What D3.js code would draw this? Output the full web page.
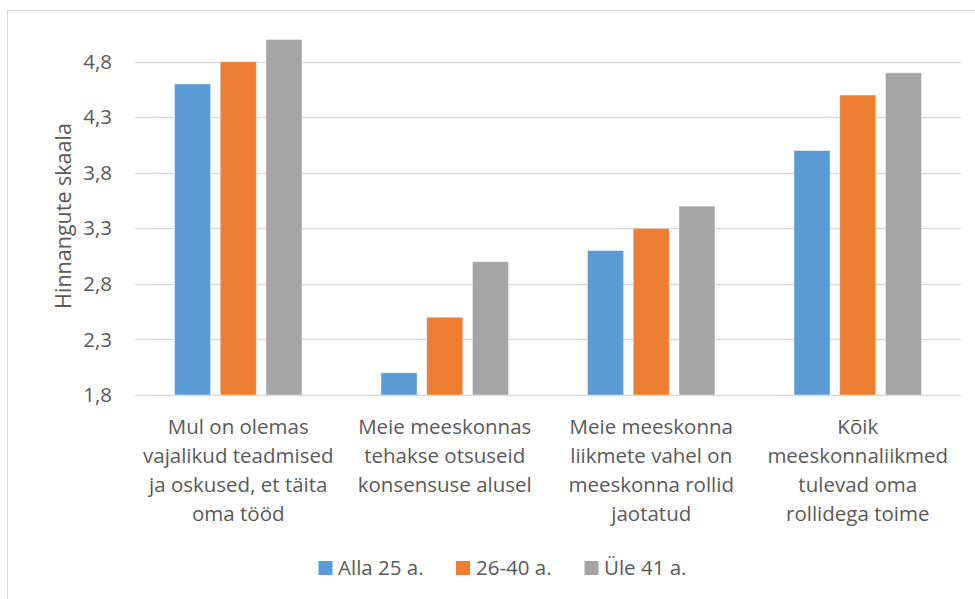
<!DOCTYPE html>
<html>
<head>
<meta charset="utf-8">
<script src="https://cdn.jsdelivr.net/npm/d3@7"></script>
<style>
  html, body { margin: 0; padding: 0; background: #fff; }
  svg { display: block; font-family: "Open Sans", Lato, sans-serif; }
</style>
</head>
<body>
<svg id="chart" width="975" height="599"></svg>
<script>
// Statements (line breaks mark where each label wraps)
const categories = [
  "Mul on olemas\nvajalikud teadmised\nja oskused, et täita\noma tööd",
  "Meie meeskonnas\ntehakse otsuseid\nkonsensuse alusel",
  "Meie meeskonna\nliikmete vahel on\nmeeskonna rollid\njaotatud",
  "Kõik\nmeeskonnaliikmed\ntulevad oma\nrollidega toime"
];
const seriesNames = ["Alla 25 a.", "26-40 a.", "Üle 41 a."];
const seriesColors = ["#5B9BD5", "#ED7D31", "#A5A5A5"];
const valuesAlla25 = [4.6, 2.0, 3.1, 4.0];
const values26to40 = [4.8, 2.5, 3.3, 4.5];
const valuesYle41 = [5.0, 3.0, 3.5, 4.7];
const yTicks = [1.8, 2.3, 2.8, 3.3, 3.8, 4.3, 4.8];
const yTitle = "Hinnangute skaala";

const seriesValues = [valuesAlla25, values26to40, valuesYle41];

const svg = d3.select("#chart");
const textColor = "#595959";
const gridColor = "#D9D9D9";
const fontSize = "20.5px";

// outer chart frame
svg.append("rect")
  .attr("x", 7.5).attr("y", 10.5)
  .attr("width", 1000).attr("height", 1000)
  .attr("fill", "none").attr("stroke", gridColor).attr("stroke-width", 1);

const plot = { left: 135, right: 961, top: 39.5, bottom: 395 };

const y = d3.scaleLinear().domain([1.8, 5.0]).range([plot.bottom, plot.top]);
const x0 = d3.scaleBand().domain(d3.range(categories.length))
  .range([plot.left, plot.right]).paddingInner(0).paddingOuter(0);
const x1 = d3.scaleBand().domain(d3.range(seriesNames.length))
  .range([0, x0.bandwidth()]).paddingInner(0.212).paddingOuter(0.864);

// gridlines
svg.append("g")
  .selectAll("line")
  .data(yTicks)
  .join("line")
  .attr("x1", plot.left).attr("x2", plot.right)
  .attr("y1", d => Math.round(y(d)) + 0.5).attr("y2", d => Math.round(y(d)) + 0.5)
  .attr("stroke", gridColor).attr("stroke-width", 1.3);

// y axis labels
const yAxis = d3.axisLeft(y).tickValues(yTicks).tickSize(0).tickPadding(0)
  .tickFormat(d => d3.format(".1f")(d).replace(".", ","));
const yg = svg.append("g").attr("transform", `translate(${112},0)`).call(yAxis);
yg.select(".domain").remove();
yg.selectAll("text").attr("fill", textColor).style("font-size", fontSize)
  .style("font-family", "'Open Sans', sans-serif");

// y axis title
svg.append("text")
  .attr("transform", `translate(71,${216}) rotate(-90)`)
  .attr("text-anchor", "middle")
  .attr("fill", textColor)
  .style("font-size", "21.5px")
  .text(yTitle);

// bars
const groups = svg.append("g").selectAll("g")
  .data(categories.map((c, i) => ({ i, vals: seriesValues.map(s => s[i]) })))
  .join("g")
  .attr("transform", d => `translate(${x0(d.i)},0)`);

groups.selectAll("rect")
  .data(d => d.vals.map((v, s) => ({ v, s })))
  .join("rect")
  .attr("x", d => x1(d.s))
  .attr("width", x1.bandwidth())
  .attr("y", d => y(d.v))
  .attr("height", d => y(1.8) - y(d.v))
  .attr("fill", d => seriesColors[d.s])
  .attr("stroke", "#fff").attr("stroke-opacity", 0.5).attr("stroke-width", 0.8);

// category labels
const catLabels = svg.append("g").selectAll("text")
  .data(categories)
  .join("text")
  .attr("x", (d, i) => x0(i) + x0.bandwidth() / 2)
  .attr("y", 434)
  .attr("text-anchor", "middle")
  .attr("fill", textColor)
  .style("font-size", fontSize);
catLabels.each(function (d) {
  const t = d3.select(this);
  d.split("\n").forEach((line, k) => {
    t.append("tspan")
      .attr("x", t.attr("x"))
      .attr("dy", k === 0 ? 0 : 28.9)
      .text(line);
  });
});

// legend
const legendItems = [
  { sq: 318.5, tx: 338 },
  { sq: 456, tx: 476 },
  { sq: 584.5, tx: 604 }
];
const legend = svg.append("g").selectAll("g")
  .data(seriesNames)
  .join("g");
legend.append("rect")
  .attr("x", (d, i) => legendItems[i].sq)
  .attr("y", 561)
  .attr("width", 14).attr("height", 14)
  .attr("fill", (d, i) => seriesColors[i]);
legend.append("text")
  .attr("x", (d, i) => legendItems[i].tx)
  .attr("y", 575)
  .attr("fill", textColor)
  .style("font-size", fontSize)
  .text(d => d);
</script>
</body>
</html>
